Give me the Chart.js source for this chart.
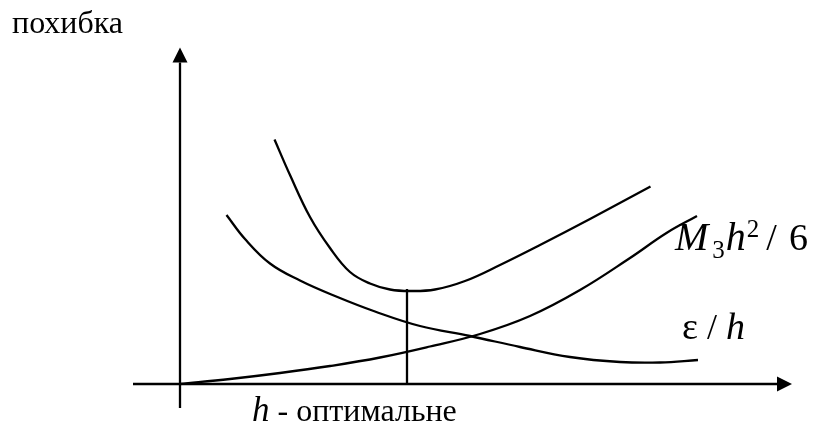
<!DOCTYPE html>
<html>
<head>
<meta charset="utf-8">
<script src="https://cdn.jsdelivr.net/npm/chart.js@4.4.0/dist/chart.umd.min.js"></script>
<style>
  body { margin: 0; background: #fff; }
</style>
</head>
<body>
<canvas id="errChart" width="818" height="425"></canvas>
<script>
// truncation part, M3*h^2/6
const truncH   = [0, 1, 2, 3, 4, 5, 6, 7, 8, 9, 9.73, 10.34];
const truncErr = [0, 0.1, 0.22, 0.36, 0.53, 0.75, 1.0, 1.36, 1.88, 2.52, 3.02, 3.36];

// rounding part, eps/h
const roundH   = [0.93, 1.3, 1.8, 2.4, 3.1, 3.9, 4.8, 5.8, 6.8, 7.8, 8.8, 9.6, 10.36];
const roundErr = [3.38, 2.9, 2.41, 2.07, 1.76, 1.45, 1.16, 0.96, 0.74, 0.54, 0.44, 0.43, 0.48];

// total error
const totalH   = [1.89, 2.2, 2.6, 3.0, 3.4, 3.8, 4.2, 4.6, 5.1, 5.7, 6.4, 7.2, 8.2, 9.41];
const totalErr = [4.89, 4.18, 3.34, 2.72, 2.24, 2.01, 1.89, 1.86, 1.89, 2.06, 2.38, 2.78, 3.3, 3.95];

// optimal step marker
const optH   = [4.54, 4.54];
const optErr = [0, 1.9];

function pts(xs, ys) {
  return xs.map((x, i) => ({ x: x, y: ys[i] }));
}

function curve(xs, ys, smooth) {
  return {
    data: pts(xs, ys),
    showLine: true,
    borderColor: '#000',
    borderWidth: 2.3,
    pointRadius: 0,
    fill: false,
    tension: smooth ? 0.4 : 0
  };
}

const axesAndText = {
  id: 'axesAndText',
  beforeDatasetsDraw(chart) {
    const ctx = chart.ctx;
    const xs = chart.scales.x, ys = chart.scales.y;
    const x0 = xs.getPixelForValue(0), y0 = ys.getPixelForValue(0);
    const xl = xs.getPixelForValue(-0.94), xr = xs.getPixelForValue(12.24);
    const yb = ys.getPixelForValue(-0.48), yt = ys.getPixelForValue(6.73);
    const len = 15, half = 7.5;
    ctx.save();
    ctx.strokeStyle = '#000';
    ctx.fillStyle = '#000';
    ctx.lineWidth = 2.3;
    ctx.beginPath();
    ctx.moveTo(xl, y0); ctx.lineTo(xr - len, y0);
    ctx.moveTo(x0, yb); ctx.lineTo(x0, yt + len);
    ctx.stroke();
    ctx.beginPath();
    ctx.moveTo(xr, y0); ctx.lineTo(xr - len, y0 - half); ctx.lineTo(xr - len, y0 + half);
    ctx.closePath(); ctx.fill();
    ctx.beginPath();
    ctx.moveTo(x0, yt); ctx.lineTo(x0 - half, yt + len); ctx.lineTo(x0 + half, yt + len);
    ctx.closePath(); ctx.fill();
    ctx.restore();
  },
  afterDraw(chart) {
    const ctx = chart.ctx;
    const xs = chart.scales.x, ys = chart.scales.y;
    const serif = '"Liberation Serif", "DejaVu Serif", serif';
    ctx.save();
    ctx.fillStyle = '#000';
    ctx.textBaseline = 'alphabetic';

    // run of text pieces: [text, font, dy, gap before]
    function run(hx, hy, parts) {
      let x = xs.getPixelForValue(hx);
      const y = ys.getPixelForValue(hy);
      parts.forEach(p => {
        ctx.font = p[1];
        x += p[3] || 0;
        ctx.fillText(p[0], x, y + (p[2] || 0));
        x += ctx.measureText(p[0]).width;
      });
    }

    run(-3.36, 7.02, [['похибка', '32px ' + serif]]);
    run(9.9, 2.68, [
      ['M', 'italic 40px ' + serif],
      ['3', '25px ' + serif, 8, 4],
      ['h', 'italic 40px ' + serif, 0, 1],
      ['2', '25px ' + serif, -13, 1],
      ['/', '38px ' + serif, 0, 7],
      ['6', '38px ' + serif, 0, 12]
    ]);
    run(10.04, 0.9, [
      ['ε', '38px ' + serif],
      [' / ', '36px ' + serif],
      ['h', 'italic 38px ' + serif]
    ]);
    run(1.44, -0.74, [
      ['h', 'italic 35px ' + serif],
      [' - оптимальне', '32px ' + serif]
    ]);
    ctx.restore();
  }
};

new Chart(document.getElementById('errChart'), {
  type: 'scatter',
  data: {
    datasets: [
      curve(truncH, truncErr, true),
      curve(roundH, roundErr, true),
      curve(totalH, totalErr, true),
      curve(optH, optErr, false)
    ]
  },
  options: {
    responsive: false,
    animation: false,
    devicePixelRatio: 1,
    layout: { padding: 0 },
    plugins: { legend: { display: false }, tooltip: { enabled: false } },
    scales: {
      x: { type: 'linear', display: false, min: -3.6, max: 12.76 },
      y: { type: 'linear', display: false, min: -0.82, max: 7.68 }
    }
  },
  plugins: [axesAndText]
});
</script>
</body>
</html>
